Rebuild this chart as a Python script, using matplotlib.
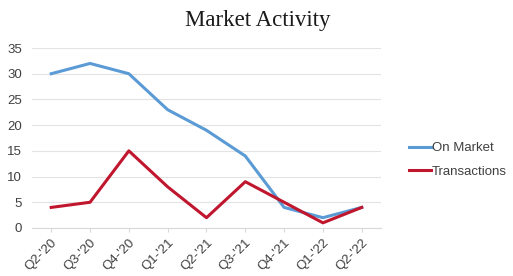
import numpy as np
import matplotlib
matplotlib.use('Agg')
import matplotlib.pyplot as plt

quarters = ["Q2-'20", "Q3-'20", "Q4-'20", "Q1-'21", "Q2-'21",
            "Q3-'21", "Q4-'21", "Q1-'22", "Q2-'22"]
on_market = [30, 32, 30, 23, 19, 14, 4, 2, 4]
transactions = [4, 5, 15, 8, 2, 9, 5, 1, 4]


def main():
    plt.rcParams['font.family'] = ['Liberation Sans', 'DejaVu Sans']
    fig = plt.figure(figsize=(5.13, 2.76), dpi=100)
    ax = fig.add_axes([0.062, 0.174, 0.681, 0.652])

    x = np.arange(len(quarters))
    ax.plot(x, on_market, color='#5b9bd5', linewidth=2.2, label='On Market')
    ax.plot(x, transactions, color='#c0162e', linewidth=2.2, label='Transactions')

    ax.set_xlim(-0.5, len(quarters) - 0.5)
    ax.set_ylim(0, 35)
    ax.set_yticks(range(0, 36, 5))
    ax.set_xticks(x)
    ax.set_xticklabels(quarters, rotation=45, ha='right', rotation_mode='anchor')
    ax.tick_params(axis='y', length=0, labelsize=9.5, colors='#404040', pad=7)
    ax.tick_params(axis='x', length=3, color='#d9d9d9', labelsize=9.5,
                   labelcolor='#404040', pad=3)
    ax.grid(axis='y', color='#e3e3e3', linewidth=0.8)
    ax.set_axisbelow(True)
    for side in ['top', 'right', 'left']:
        ax.spines[side].set_visible(False)
    ax.spines['bottom'].set_color('#d9d9d9')

    fig.text(0.503, 0.925, 'Market Activity', family='Liberation Serif',
             fontsize=16.5, ha='center', va='center', color='#1a1a1a')

    fig.legend(loc='center left', bbox_to_anchor=(0.775, 0.42), frameon=False,
               fontsize=9.5, handlelength=1.6, handletextpad=0.1,
               labelspacing=0.85, labelcolor='#404040')

    fig.savefig('out.png', dpi=100)


if __name__ == '__main__':
    main()
